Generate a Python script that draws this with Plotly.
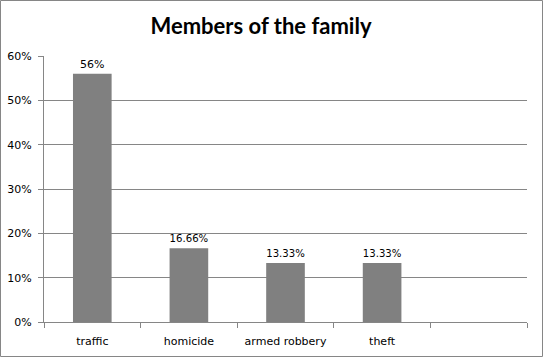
import plotly.graph_objects as go

categories = ["traffic", "homicide", "armed robbery", "theft", " "]
values = [0.56, 0.1666, 0.1333, 0.1333, None]
labels = [("%g%%" % round(v * 100, 2)) if v is not None else "" for v in values]
title_text = "Members of the family"

W, H = 543, 357
L, R, T, B = 44, 16, 56, 35
pw, ph = W - L - R, H - T - B

fig = go.Figure(go.Bar(
    x=categories, y=values, text=labels, textposition="outside",
    marker=dict(color="#808080", line=dict(width=0)), width=0.4,
    textfont=dict(family="DejaVu Sans", size=11, color="#000000"),
    cliponaxis=False,
))

grid = "#868686"
fig.update_layout(
    width=W, height=H, margin=dict(l=L, r=R, t=T, b=B, autoexpand=False),
    paper_bgcolor="white", plot_bgcolor="white",
    showlegend=False,
    title=dict(text="<b>" + title_text + "</b>", x=261 / W, xanchor="center",
               y=1 - 26 / H, yanchor="middle",
               font=dict(family="Lato", size=22, color="#000000")),
    xaxis=dict(type="category", categoryorder="array", categoryarray=categories,
               range=[-0.5, 4.5], tickson="boundaries", ticks="outside", ticklen=5,
               tickcolor=grid, showline=True, linecolor=grid, linewidth=1,
               showgrid=False, ticklabelstandoff=9, automargin=False,
               tickfont=dict(family="DejaVu Sans", size=11, color="#000000")),
    yaxis=dict(range=[0, 0.6], dtick=0.1, tickformat=".0%", ticks="outside",
               ticklen=5, tickcolor=grid, showline=True, linecolor=grid,
               linewidth=1, showgrid=True, gridcolor=grid, gridwidth=1,
               zeroline=False, ticklabelstandoff=4, automargin=False,
               tickfont=dict(family="DejaVu Sans", size=11, color="#000000")),
    bargap=0.6,
)

fig.add_shape(type="rect", xref="paper", yref="paper",
              x0=(0.5 - L) / pw, x1=(W - 0.5 - L) / pw,
              y0=(H - B - (H - 0.5)) / ph, y1=(H - B - 0.5) / ph,
              line=dict(color="#868686", width=1), layer="above")

fig.write_html("out.html", config={"displayModeBar": False},
               post_script="document.body.style.margin='0';document.body.style.overflow='hidden';")
